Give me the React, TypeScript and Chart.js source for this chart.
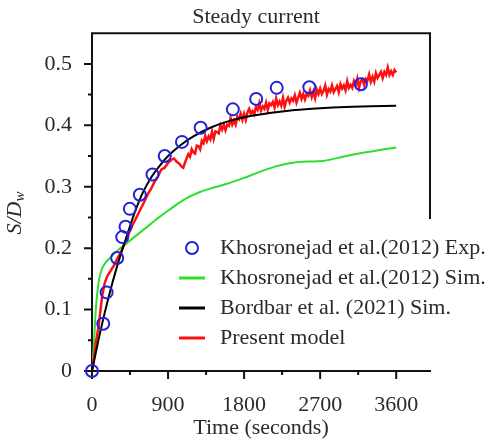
import React, { useEffect, useRef } from "react";
import { Chart, registerables } from "chart.js";
Chart.register(...registerables);

// Khosronejad et al. (2012) experiment
const expTime = [0, 133, 173, 298, 358, 397, 448, 566, 716, 861, 1065, 1286, 1667, 1943, 2186, 2572, 3182];
const expDepth = [0, 0.077, 0.128, 0.184, 0.218, 0.235, 0.264, 0.287, 0.32, 0.35, 0.373, 0.396, 0.426, 0.443, 0.461, 0.462, 0.467];

// Khosronejad et al. (2012) simulation
const simKTime = [0, 25, 45, 85, 120, 170, 212, 300, 400, 500, 600, 700, 800, 900, 1000, 1100, 1270, 1400, 1600, 1790, 2000, 2200, 2380, 2550, 2730, 2970, 3240, 3600];
const simKDepth = [0, 0.05, 0.1, 0.15, 0.167, 0.178, 0.184, 0.196, 0.207, 0.218, 0.229, 0.24, 0.251, 0.261, 0.271, 0.28, 0.291, 0.297, 0.305, 0.314, 0.325, 0.334, 0.339, 0.341, 0.342, 0.349, 0.356, 0.364];

// Bordbar et al. (2021) simulation
const simBTime = [0, 100, 200, 300, 400, 500, 600, 700, 800, 900, 1050, 1200, 1400, 1600, 1800, 2100, 2400, 2700, 3000, 3300, 3600];
const simBDepth = [0, 0.065, 0.122, 0.172, 0.215, 0.256, 0.29, 0.315, 0.334, 0.35, 0.368, 0.382, 0.396, 0.406, 0.413, 0.42, 0.425, 0.428, 0.43, 0.431, 0.432];

// Present model
const presentTime = [
  0, 40, 80, 120, 150, 180, 220, 260, 300, 340, 380, 420, 460, 500, 540, 580, 620, 660, 700, 740,
  780, 820, 860, 900, 940, 970, 1000, 1030, 1060, 1080, 1110,
  1140, 1160, 1180, 1200, 1220, 1240, 1260, 1280, 1300, 1320, 1340, 1360, 1380, 1400, 1420, 1440, 1460, 1480, 1500, 1520,
  1540, 1560, 1580, 1600, 1620, 1640, 1660, 1680, 1700, 1720, 1740, 1760, 1780, 1800, 1820, 1840, 1860, 1880, 1900, 1920,
  1940, 1960, 1980, 2000, 2020, 2040, 2060, 2080, 2100, 2120, 2140, 2160, 2180, 2200, 2220, 2240, 2260, 2280, 2300, 2320,
  2340, 2360, 2380, 2400, 2420, 2440, 2460, 2480, 2500, 2520, 2540, 2560, 2580, 2600, 2620, 2640, 2660, 2680, 2700, 2720,
  2740, 2760, 2780, 2800, 2820, 2840, 2860, 2880, 2900, 2920, 2940, 2960, 2980, 3000, 3020, 3040, 3060, 3080, 3100, 3120,
  3140, 3160, 3180, 3200, 3220, 3240, 3260, 3280, 3300, 3320, 3340, 3360, 3380, 3400, 3420, 3440, 3460, 3480, 3500, 3520,
  3540, 3560, 3580, 3600,
];
const presentDepth = [
  0, 0.04, 0.075, 0.122, 0.143, 0.154, 0.163, 0.172, 0.183, 0.193, 0.206, 0.218, 0.232, 0.243, 0.254, 0.265, 0.276, 0.288, 0.297, 0.308,
  0.317, 0.328, 0.331, 0.339, 0.344, 0.346, 0.341, 0.338, 0.333, 0.331, 0.343,
  0.353, 0.349, 0.361, 0.356, 0.354, 0.367, 0.366, 0.361, 0.375, 0.371, 0.383, 0.374, 0.382, 0.377, 0.39, 0.378, 0.39, 0.389, 0.387, 0.4,
  0.393, 0.401, 0.392, 0.401, 0.399, 0.412, 0.401, 0.408, 0.401, 0.414, 0.41, 0.419, 0.409, 0.419, 0.409, 0.421, 0.427, 0.419, 0.423, 0.418,
  0.43, 0.425, 0.436, 0.424, 0.431, 0.427, 0.437, 0.425, 0.436, 0.433, 0.438, 0.429, 0.444, 0.433, 0.439, 0.432, 0.445, 0.43, 0.44, 0.445,
  0.437, 0.444, 0.44, 0.449, 0.437, 0.445, 0.453, 0.443, 0.451, 0.442, 0.451, 0.448, 0.457, 0.446, 0.455, 0.444, 0.458, 0.451, 0.46, 0.451,
  0.456, 0.465, 0.45, 0.459, 0.455, 0.465, 0.454, 0.459, 0.464, 0.454, 0.467, 0.46, 0.465, 0.457, 0.472, 0.461, 0.466, 0.461, 0.472, 0.465,
  0.476, 0.461, 0.472, 0.475, 0.466, 0.476, 0.473, 0.483, 0.471, 0.479, 0.471, 0.485, 0.477, 0.482, 0.487, 0.477, 0.487, 0.482, 0.494, 0.482,
  0.488, 0.482, 0.49, 0.486,
];

const xTickValues = [0, 450, 900, 1350, 1800, 2250, 2700, 3150, 3600];
const xTickLabels = [0, 900, 1800, 2700, 3600];
const yTickValues = [0, 0.05, 0.1, 0.15, 0.2, 0.25, 0.3, 0.35, 0.4, 0.45, 0.5];
const yTickLabels = [0, 0.1, 0.2, 0.3, 0.4, 0.5];

const legendLabels = [
  "Khosronejad et al.(2012) Exp.",
  "Khosronejad et al.(2012) Sim.",
  "Bordbar et al. (2021) Sim.",
  "Present model",
];

const BLUE = "#2222d8";
const GREEN = "#2ee02e";
const BLACK = "#000000";
const RED = "#ff1010";
const TEXT = "#2a2a2a";
const SERIF = "'Liberation Serif', 'Times New Roman', serif";
const FS = 22;

const pairs = (xs: number[], ys: number[]) => xs.map((x, i) => ({ x, y: ys[i] }));

const isMajorY = (v: number) => yTickLabels.some((t) => Math.abs(t - v) < 1e-6);
const isMajorX = (v: number) => xTickLabels.some((t) => Math.abs(t - v) < 1e-6);

const decorPlugin = {
  id: "decor",
  beforeDatasetsDraw(chart: any) {
    const { ctx, chartArea: a, scales } = chart;
    const x = scales.x;
    const y = scales.y;
    ctx.save();
    ctx.strokeStyle = "#111";
    ctx.lineWidth = 2;
    ctx.lineCap = "square";
    ctx.beginPath();
    ctx.moveTo(a.left, a.top);
    ctx.lineTo(a.left, a.bottom);
    ctx.lineTo(a.right, a.bottom);
    ctx.moveTo(a.left, a.top);
    ctx.lineTo(a.right, a.top);
    ctx.lineTo(a.right, 218);
    ctx.stroke();
    ctx.lineCap = "butt";
    ctx.beginPath();
    xTickValues.forEach((v) => {
      const px = x.getPixelForValue(v);
      const len = isMajorX(v) ? 8 : 4;
      ctx.moveTo(px, a.bottom);
      ctx.lineTo(px, a.bottom + len);
    });
    yTickValues.forEach((v) => {
      const py = y.getPixelForValue(v);
      const len = isMajorY(v) ? 8 : 4;
      ctx.moveTo(a.left, py);
      ctx.lineTo(a.left - len, py);
    });
    ctx.stroke();
    ctx.restore();
  },
  afterDraw(chart: any) {
    const { ctx } = chart;
    ctx.save();
    ctx.fillStyle = TEXT;
    ctx.font = `${FS}px ${SERIF}`;
    ctx.textAlign = "center";
    ctx.textBaseline = "middle";
    ctx.fillText("Steady current", 256, 17.5);
    ctx.fillText("Time (seconds)", 261, 428);

    // y axis title S/D_w
    ctx.save();
    ctx.translate(17, 213);
    ctx.rotate(-Math.PI / 2);
    const main = "S/D";
    ctx.font = `italic ${FS}px ${SERIF}`;
    const wMain = ctx.measureText(main).width;
    ctx.font = `italic 15px ${SERIF}`;
    const wSub = ctx.measureText("w").width;
    const total = wMain + wSub;
    ctx.textAlign = "left";
    ctx.textBaseline = "alphabetic";
    ctx.font = `italic ${FS}px ${SERIF}`;
    ctx.fillText(main, -total / 2, 4);
    ctx.font = `italic 15px ${SERIF}`;
    ctx.fillText("w", -total / 2 + wMain, 7);
    ctx.restore();

    // legend
    ctx.fillStyle = "#ffffff";
    ctx.fillRect(174, 219, 317, 136);
    const rows = [248, 278, 308, 338];
    ctx.lineWidth = 2;
    ctx.strokeStyle = BLUE;
    ctx.beginPath();
    ctx.arc(192, rows[0], 6, 0, Math.PI * 2);
    ctx.stroke();
    [GREEN, BLACK, RED].forEach((c, i) => {
      ctx.strokeStyle = c;
      ctx.lineWidth = 3;
      ctx.beginPath();
      ctx.moveTo(179, rows[i + 1]);
      ctx.lineTo(205, rows[i + 1]);
      ctx.stroke();
    });
    ctx.fillStyle = TEXT;
    ctx.font = `${FS}px ${SERIF}`;
    ctx.textAlign = "left";
    ctx.textBaseline = "middle";
    legendLabels.forEach((l, i) => ctx.fillText(l, 220, rows[i]));
    ctx.restore();
  },
};

export default function App() {
  const ref = useRef<HTMLCanvasElement | null>(null);
  useEffect(() => {
    if (!ref.current) return;
    Chart.defaults.font.family = SERIF;
    const chart = new Chart(ref.current, {
      type: "scatter",
      data: {
        datasets: [
          {
            label: legendLabels[0],
            data: pairs(expTime, expDepth),
            showLine: false,
            pointRadius: 6,
            pointBorderWidth: 2,
            pointBorderColor: BLUE,
            pointBackgroundColor: "rgba(0,0,0,0)",
            clip: false,
            order: 0,
          },
          {
            label: legendLabels[2],
            data: pairs(simBTime, simBDepth),
            showLine: true,
            borderColor: BLACK,
            borderWidth: 2,
            pointRadius: 0,
            cubicInterpolationMode: "monotone",
            order: 1,
          },
          {
            label: legendLabels[3],
            data: pairs(presentTime, presentDepth),
            showLine: true,
            borderColor: RED,
            borderWidth: 2.5,
            pointRadius: 0,
            order: 2,
          },
          {
            label: legendLabels[1],
            data: pairs(simKTime, simKDepth),
            showLine: true,
            borderColor: GREEN,
            borderWidth: 2,
            pointRadius: 0,
            cubicInterpolationMode: "monotone",
            order: 3,
          },
        ],
      },
      options: {
        animation: false,
        responsive: false,
        layout: { padding: { top: 33, right: 61, left: 0, bottom: 0 } },
        plugins: { legend: { display: false }, tooltip: { enabled: false }, title: { display: false } },
        scales: {
          x: {
            type: "linear",
            min: 0,
            max: 4000,
            afterFit: (s: any) => {
              s.height = 73;
            },
            afterBuildTicks: (s: any) => {
              s.ticks = xTickValues.map((value) => ({ value }));
            },
            grid: { display: false, drawTicks: false, tickLength: 0 },
            border: { display: false },
            ticks: {
              autoSkip: false,
              maxRotation: 0,
              minRotation: 0,
              padding: 21,
              color: TEXT,
              font: { size: FS, family: SERIF },
              callback: (v: any) => (isMajorX(Number(v)) ? String(v) : ""),
            },
          },
          y: {
            type: "linear",
            min: 0,
            max: 0.55,
            afterFit: (s: any) => {
              s.width = 92;
            },
            afterBuildTicks: (s: any) => {
              s.ticks = yTickValues.map((value) => ({ value }));
            },
            grid: { display: false, drawTicks: false, tickLength: 0 },
            border: { display: false },
            ticks: {
              autoSkip: false,
              padding: 20,
              color: TEXT,
              font: { size: FS, family: SERIF },
              callback: (v: any) => {
                const n = Number(v);
                if (!isMajorY(n)) return "";
                return Math.abs(n) < 1e-9 ? "0" : n.toFixed(1);
              },
            },
          },
        },
      },
      plugins: [decorPlugin],
    } as any);
    return () => chart.destroy();
  }, []);
  return (
    <div style={{ position: "fixed", left: 0, top: 0, width: 491, height: 444, background: "#fff" }}>
      <canvas ref={ref} width={491} height={444} style={{ display: "block", width: 491, height: 444 }} />
    </div>
  );
}
